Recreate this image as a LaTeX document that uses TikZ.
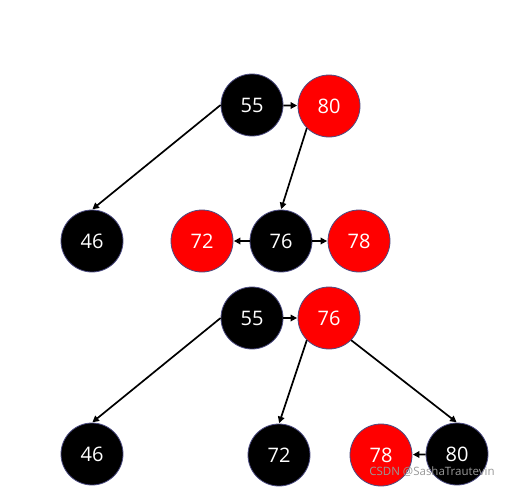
\documentclass[tikz,border=0pt]{standalone}
\usepackage{fontspec}
\setmainfont{Open Sans}
\usetikzlibrary{arrows.meta}
\tikzset{
  rbnode/.style={circle, minimum size=62pt, inner sep=0pt, draw=blue!30!black!70, line width=0.8pt,
    text=white, font=\fontsize{20}{23}\selectfont},
  blk/.style={rbnode, fill=black},
  rd/.style={rbnode, fill=red},
  edge/.style={-{Triangle[length=6.5pt,width=6.5pt]}, line width=1.7pt, shorten >=0.5pt}
}
\begin{document}
\begin{tikzpicture}[x=1pt,y=-1pt]
  \useasboundingbox[fill=white] (0,0) rectangle (505,490);
  % before
  \node[blk] (a55) at (252,105){55};
  \node[rd]  (a80) at (329,106){80};
  \node[blk] (a46) at (92,241){46};
  \node[rd]  (a72) at (202,241){72};
  \node[blk] (a76) at (281,241){76};
  \node[rd]  (a78) at (359,241){78};

  \draw[edge] (a55) -- (a80);
  \draw[edge] (a55.west) -- (a46.north);
  \draw[edge] (a80.south west) -- (a76.north);
  \draw[edge] (a76) -- (a72);
  \draw[edge] (a76) -- (a78);

  % after
  \node[blk] (b55) at (252,318){55};
  \node[rd]  (b76) at (329,318){76};
  \node[blk] (b46) at (92,454){46};
  \node[blk] (b72) at (279,455){72};
  \node[rd]  (b78) at (381,455){78};
  \node[blk] (b80) at (457,454){80};

  \draw[edge] (b55) -- (b76);
  \draw[edge] (b55.west) -- (b46.north);
  \draw[edge] (b76.south west) -- (b72.north);
  \draw[edge] (b76.south east) -- (b80.north);
  \draw[edge] (b80) -- (b78);

  \node[text=black!40, font=\fontsize{11.5}{13}\selectfont] (mark) at (432,472){CSDN @SashaTrautevin};
\end{tikzpicture}
\end{document}
